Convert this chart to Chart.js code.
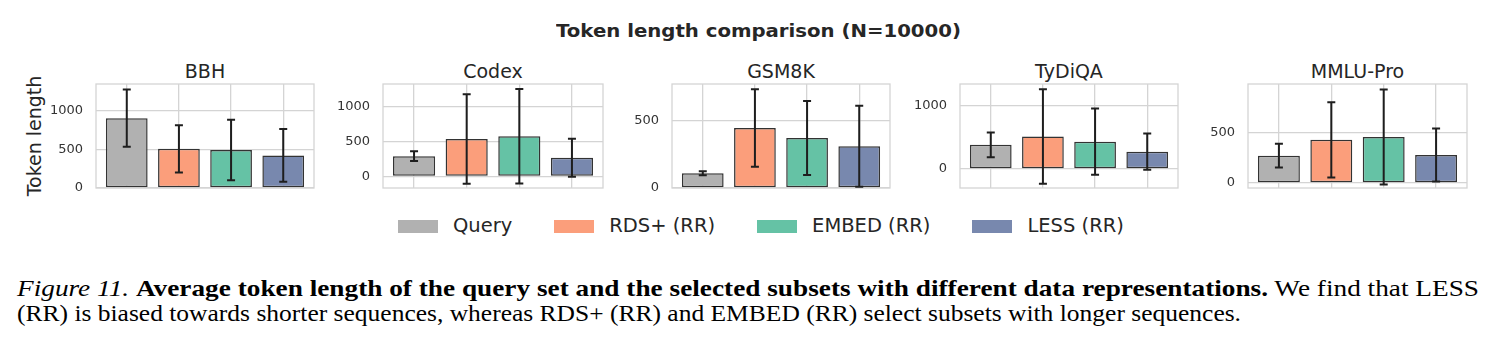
<!DOCTYPE html>
<html><head><meta charset="utf-8">
<script src="https://cdn.jsdelivr.net/npm/chart.js@4.4.0/dist/chart.umd.min.js"></script>
<style>
html,body{margin:0;padding:0;background:#fff;}
body{width:1491px;height:349px;position:relative;overflow:hidden;font-family:"DejaVu Sans";color:#262626;}
.abs{position:absolute;white-space:nowrap;line-height:1;}
#suptitle{font-weight:bold;font-size:18px;left:556px;top:22px;}
.sub{font-size:19px;text-align:center;top:62px;}
#ylabel{font-size:19px;left:34px;top:136px;transform:translate(-50%,-50%) rotate(-90deg);}
#legend{top:217px;left:398px;display:flex;align-items:center;height:18px;}
.item{display:flex;align-items:center;margin-right:42px;font-size:19.5px;line-height:1;}
.patch{width:40px;height:13px;margin-right:15px;}
.cap{font-family:"Liberation Serif","Times New Roman",Times,serif;color:#000;font-size:23px;left:17px;line-height:1;}
#cap1{top:277px;}
#cap2{top:302px;}
</style></head><body>
<div id="suptitle" class="abs">Token length comparison (N=10000)</div>
<div id="ylabel" class="abs">Token length</div>
<div id="legend" class="abs"></div>
<div id="cap1" class="abs cap"><i>Figure 11.</i> <b>Average token length of the query set and the selected subsets with different data representations.</b> We find that LESS</div>
<div id="cap2" class="abs cap">(RR) is biased towards shorter sequences, whereas RDS+ (RR) and EMBED (RR) select subsets with longer sequences.</div>
<script>
// ---- data ----
const methods = ['Query', 'RDS+ (RR)', 'EMBED (RR)', 'LESS (RR)'];
const colors = ['#b1b1b1', '#fb9e7b', '#65c2a5', '#7888ae'];
const tasks = ['BBH', 'Codex', 'GSM8K', 'TyDiQA', 'MMLU-Pro'];
const bbhMean = [900, 505, 490, 420];
const bbhErr = [370, 305, 390, 340];
const codexMean = [290, 536, 575, 268];
const codexErr = [70, 640, 675, 272];
const gsm8kMean = [110, 448, 373, 312];
const gsm8kErr = [15, 289, 276, 302];
const tydiqaMean = [377, 508, 427, 270];
const tydiqaErr = [193, 743, 520, 285];
const mmluMean = [273, 431, 460, 280];
const mmluErr = [118, 375, 474, 264];
const yTicks = [[0, 500, 1000], [0, 500, 1000], [0, 500], [0, 1000], [0, 500]];
const yMin = [0, -165, 0, -300, -50];
const yMax = [1340, 1322, 776, 1332, 988];

const means = [bbhMean, codexMean, gsm8kMean, tydiqaMean, mmluMean];
const errs = [bbhErr, codexErr, gsm8kErr, tydiqaErr, mmluErr];

// ---- layout ----
const plotLeft = [96, 383, 672, 960, 1248];
const plotW = [218, 220, 218, 218, 219];
const plotTop = 84, plotH = 104;
const PADL = 60, PAD = 8;
const GRID = '#d4d4d4';

function fitWidth(id, target) {
  const el = document.getElementById(id);
  const w = el.getBoundingClientRect().width;
  el.style.transformOrigin = 'left top';
  el.style.transform = `scaleX(${target / w})`;
}
fitWidth('suptitle', 405);
fitWidth('cap1', 1462);
fitWidth('cap2', 1224);

// legend
const lg = document.getElementById('legend');
methods.forEach((m, i) => {
  const it = document.createElement('div'); it.className = 'item';
  const p = document.createElement('div'); p.className = 'patch'; p.style.background = colors[i];
  const s = document.createElement('span'); s.textContent = m;
  it.appendChild(p); it.appendChild(s); lg.appendChild(it);
});

const boxPlugin = {
  id: 'box',
  afterDatasetsDraw(chart) {
    const a = chart.chartArea, ctx = chart.ctx;
    ctx.save(); ctx.strokeStyle = GRID; ctx.lineWidth = 1.3;
    ctx.strokeRect(a.left, a.top, a.right - a.left, a.bottom - a.top);
    ctx.restore();
  }
};
const errPlugin = {
  id: 'err',
  afterDatasetsDraw(chart) {
    const ctx = chart.ctx, ys = chart.scales.y;
    const ds = chart.data.datasets[0], meta = chart.getDatasetMeta(0);
    ctx.save(); ctx.strokeStyle = '#1e1e1e'; ctx.lineWidth = 2;
    meta.data.forEach((bar, i) => {
      const m = ds.data[i].y, e = ds.err[i];
      const y1 = ys.getPixelForValue(m - e), y2 = ys.getPixelForValue(m + e), x = bar.x;
      ctx.beginPath();
      ctx.moveTo(x, y1); ctx.lineTo(x, y2);
      ctx.moveTo(x - 4, y1); ctx.lineTo(x + 4, y1);
      ctx.moveTo(x - 4, y2); ctx.lineTo(x + 4, y2);
      ctx.stroke();
    });
    ctx.restore();
  }
};

tasks.forEach((t, k) => {
  const ttl = document.createElement('div');
  ttl.className = 'abs sub'; ttl.textContent = t;
  ttl.style.left = plotLeft[k] + 'px'; ttl.style.width = plotW[k] + 'px';
  document.body.appendChild(ttl);

  const c = document.createElement('canvas');
  const W = plotW[k] + PADL + PAD, H = plotH + 2 * PAD;
  c.width = W; c.height = H;
  c.style.cssText = `position:absolute;left:${plotLeft[k] - PADL}px;top:${plotTop - PAD}px;width:${W}px;height:${H}px`;
  document.body.appendChild(c);
  new Chart(c, {
    type: 'bar',
    data: {
      datasets: [{
        data: means[k].map((v, i) => ({ x: i, y: v })),
        err: errs[k],
        backgroundColor: colors,
        borderColor: '#333333',
        borderWidth: 1.5,
        borderSkipped: false,
        barPercentage: 0.8,
        categoryPercentage: 1
      }]
    },
    options: {
      responsive: false, animation: false, devicePixelRatio: 1,
      layout: { padding: { left: 0, right: PAD, top: PAD, bottom: PAD } },
      plugins: { legend: { display: false }, tooltip: { enabled: false }, title: { display: false } },
      scales: {
        x: {
          type: 'linear', min: -0.59, max: 3.59, offset: false,
          grid: { color: GRID, lineWidth: 1.3, drawTicks: false, offset: false },
          border: { display: false },
          ticks: { display: false },
          afterBuildTicks: s => { s.ticks = [0, 1, 2, 3].map(v => ({ value: v })); },
          afterFit: s => { s.height = 0; s.paddingLeft = 0; s.paddingRight = 0; }
        },
        y: {
          min: yMin[k], max: yMax[k],
          grid: { color: GRID, lineWidth: 1.3, drawTicks: false },
          border: { display: false },
          ticks: { font: { family: 'DejaVu Sans', size: 13 }, color: '#333', padding: 13, callback: v => String(v) },
          afterBuildTicks: s => { s.ticks = yTicks[k].map(v => ({ value: v })); },
          afterFit: s => { s.width = PADL; s.paddingTop = 0; s.paddingBottom = 0; }
        }
      }
    },
    plugins: [boxPlugin, errPlugin]
  });
});
</script>
</body></html>
